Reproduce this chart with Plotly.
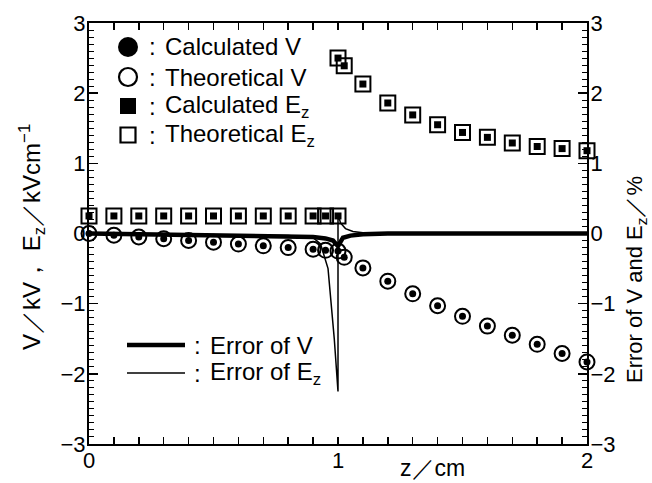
import plotly.graph_objects as go

# ---------------- data ----------------
z_v = [0, 0.1, 0.2, 0.3, 0.4, 0.5, 0.6, 0.7, 0.8, 0.9, 0.95, 1.0, 1.025,
       1.1, 1.2, 1.3, 1.4, 1.5, 1.6, 1.7, 1.8, 1.9, 2.0]
v_theory = [0, -0.025, -0.05, -0.075, -0.1, -0.125, -0.15, -0.175, -0.2, -0.225, -0.24, -0.25, -0.34,
            -0.49, -0.68, -0.86, -1.03, -1.18, -1.32, -1.45, -1.58, -1.71, -1.83]
v_calc = [0, -0.025, -0.05, -0.075, -0.1, -0.125, -0.15, -0.175, -0.2, -0.225, -0.24, -0.25, -0.34,
          -0.49, -0.68, -0.86, -1.03, -1.18, -1.32, -1.45, -1.58, -1.71, -1.83]

z_e = [0, 0.1, 0.2, 0.3, 0.4, 0.5, 0.6, 0.7, 0.8, 0.9, 0.95, 1.0,
       1.0, 1.025, 1.1, 1.2, 1.3, 1.4, 1.5, 1.6, 1.7, 1.8, 1.9, 2.0]
e_theory = [0.25, 0.25, 0.25, 0.25, 0.25, 0.25, 0.25, 0.25, 0.25, 0.25, 0.25, 0.25,
            2.50, 2.39, 2.13, 1.86, 1.69, 1.55, 1.44, 1.37, 1.29, 1.24, 1.21, 1.18]
e_calc = [0.25, 0.25, 0.25, 0.25, 0.25, 0.25, 0.25, 0.25, 0.25, 0.25, 0.25, 0.25,
          2.50, 2.39, 2.13, 1.86, 1.69, 1.55, 1.44, 1.37, 1.29, 1.24, 1.21, 1.18]

z_errv = [0, 0.2, 0.4, 0.6, 0.8, 0.9, 0.95, 0.98, 1.0, 1.02, 1.05, 1.1, 1.2, 1.5, 2.0]
err_v = [0, -0.01, -0.02, -0.03, -0.04, -0.05, -0.07, -0.1, -0.18, -0.06, -0.03, -0.01, 0, 0, 0]

z_erre = [0, 0.3, 0.6, 0.8, 0.9, 0.93, 0.96, 0.985, 1.0, 1.0, 1.01, 1.03, 1.06, 1.1, 1.2, 1.5, 2.0]
err_e = [0, -0.01, -0.02, -0.03, -0.06, -0.15, -0.5, -1.5, -2.25, 0.28, 0.15, 0.07, 0.03, 0.01, 0, 0, 0]

x_ticks = [0, 1, 2]
y_ticks = [-3, -2, -1, 0, 1, 2, 3]
y_ticktext = ["\u22123", "\u22122", "\u22121", "0", "1", "2", "3"]

FONT = "Liberation Sans, Arial, Helvetica, sans-serif"
W, H = 652, 483
L, R, T, B = 89, 65, 23, 39
PW, PH = W - L - R, H - T - B

fig = go.Figure()

# theoretical (open) markers and calculated (filled) markers
fig.add_trace(go.Scatter(x=z_v, y=v_theory, mode="markers", name="Theoretical V",
                         marker=dict(symbol="circle-open", size=15, color="black", line=dict(width=2)),
                         cliponaxis=False))
fig.add_trace(go.Scatter(x=z_v, y=v_calc, mode="markers", name="Calculated V",
                         marker=dict(symbol="circle", size=7, color="black"), cliponaxis=False))
fig.add_trace(go.Scatter(x=z_e, y=e_theory, mode="markers", name="Theoretical Ez",
                         marker=dict(symbol="square-open", size=15, color="black", line=dict(width=2)),
                         cliponaxis=False))
fig.add_trace(go.Scatter(x=z_e, y=e_calc, mode="markers", name="Calculated Ez",
                         marker=dict(symbol="square", size=7, color="black"), cliponaxis=False))

# error curves on right axis
fig.add_trace(go.Scatter(x=z_errv, y=err_v, mode="lines", name="Error of V", yaxis="y2",
                         line=dict(color="black", width=4.5)))
fig.add_trace(go.Scatter(x=z_erre, y=err_e, mode="lines", name="Error of Ez", yaxis="y2",
                         line=dict(color="black", width=1.5)))

# ---- custom legend (pixel helpers -> paper coords) ----
def px_x(px):
    return (px - L) / PW

def px_y(py):
    return ((H - B) - py) / PH

shapes = []
annotations = []
LF = dict(size=24, family=FONT, color="black")
rows = [47, 77, 106, 135]
labels = ["Calculated V", "Theoretical V", "Calculated E<sub>z</sub>", "Theoretical E<sub>z</sub>"]
kinds = ["fc", "oc", "fs", "os"]
cx = 128
for r, lab, k in zip(rows, labels, kinds):
    if k in ("fc", "oc"):
        rr = 10 if k == "fc" else 9
        shapes.append(dict(type="circle", xref="paper", yref="paper", x0=px_x(cx - rr), x1=px_x(cx + rr),
                           y0=px_y(r + rr), y1=px_y(r - rr),
                           fillcolor="black" if k == "fc" else "rgba(0,0,0,0)",
                           line=dict(color="black", width=0 if k == "fc" else 2.2)))
    else:
        hh = 8 if k == "fs" else 7.5
        shapes.append(dict(type="rect", xref="paper", yref="paper", x0=px_x(cx - hh), x1=px_x(cx + hh),
                           y0=px_y(r + hh), y1=px_y(r - hh),
                           fillcolor="black" if k == "fs" else "rgba(0,0,0,0)",
                           line=dict(color="black", width=0 if k == "fs" else 2.2)))
    annotations.append(dict(x=px_x(152), y=px_y(r), xref="paper", yref="paper", text=":", showarrow=False,
                            xanchor="center", yanchor="middle", font=LF))
    annotations.append(dict(x=px_x(163), y=px_y(r), xref="paper", yref="paper", text=lab, showarrow=False,
                            xanchor="left", yanchor="middle", font=LF))

for r, lab, w in zip([345, 373], ["Error of V", "Error of E<sub>z</sub>"], [4.5, 1.3]):
    shapes.append(dict(type="line", xref="paper", yref="paper", x0=px_x(127), x1=px_x(185),
                       y0=px_y(r), y1=px_y(r), line=dict(color="black", width=w)))
    annotations.append(dict(x=px_x(197), y=px_y(r), xref="paper", yref="paper", text=":", showarrow=False,
                            xanchor="center", yanchor="middle", font=LF))
    annotations.append(dict(x=px_x(208), y=px_y(r), xref="paper", yref="paper", text=lab, showarrow=False,
                            xanchor="left", yanchor="middle", font=LF))

TF = dict(size=24, family=FONT, color="black")
annotations.append(dict(x=px_x(432), y=px_y(468), xref="paper", yref="paper", text="z\uff0fcm",
                        showarrow=False, xanchor="center", yanchor="middle",
                        font=dict(size=23, family=FONT, color="black")))
annotations.append(dict(x=px_x(32), y=px_y(237), xref="paper", yref="paper",
                        text="V\uff0fkV\uff0c E<sub>z</sub>\uff0fkVcm<sup>\u22121</sup>", showarrow=False,
                        xanchor="center", yanchor="middle", textangle=-90, font=TF))
annotations.append(dict(x=px_x(636), y=px_y(280), xref="paper", yref="paper",
                        text="Error of V and E<sub>z</sub>\uff0f%", showarrow=False,
                        xanchor="center", yanchor="middle", textangle=-90,
                        font=dict(size=22, family=FONT, color="black")))

tickfont = dict(size=22, family=FONT, color="black")
fig.update_layout(
    width=W, height=H,
    margin=dict(l=L, r=R, t=T, b=B, autoexpand=False),
    paper_bgcolor="white", plot_bgcolor="white",
    showlegend=False,
    hovermode=False,
    font=dict(family=FONT, color="black"),
    shapes=shapes,
    annotations=annotations,
    xaxis=dict(range=[0, 2], tickvals=x_ticks, ticktext=[str(v) for v in x_ticks],
               ticks="inside", ticklen=7, tickwidth=1.5, tickcolor="black",
               minor=dict(dtick=0.1, ticks="inside", ticklen=7, tickwidth=1.5, tickcolor="black"),
               showline=True, linecolor="black", linewidth=2, mirror="ticks",
               showgrid=False, zeroline=False, tickfont=tickfont, ticklabelstandoff=-4,
               automargin=False),
    yaxis=dict(range=[-3, 3], tickvals=y_ticks, ticktext=y_ticktext,
               ticks="inside", ticklen=9, tickwidth=1.5, tickcolor="black",
               minor=dict(dtick=0.1, ticks="inside", ticklen=5, tickwidth=1, tickcolor="black"),
               showline=True, linecolor="black", linewidth=2, mirror=False,
               showgrid=False, zeroline=False, tickfont=tickfont, ticklabelstandoff=-3,
               automargin=False),
    yaxis2=dict(range=[-3, 3], tickvals=y_ticks, ticktext=y_ticktext, overlaying="y", side="right",
                ticks="inside", ticklen=9, tickwidth=1.5, tickcolor="black",
                minor=dict(dtick=0.1, ticks="inside", ticklen=5, tickwidth=1, tickcolor="black"),
                showline=True, linecolor="black", linewidth=2,
                showgrid=False, zeroline=False, tickfont=tickfont, ticklabelstandoff=-3,
                automargin=False),
)

fig.write_html("out.html", config={"displayModeBar": False, "staticPlot": True},
               post_script="document.body.style.margin='0px';document.body.style.overflow='hidden';")
